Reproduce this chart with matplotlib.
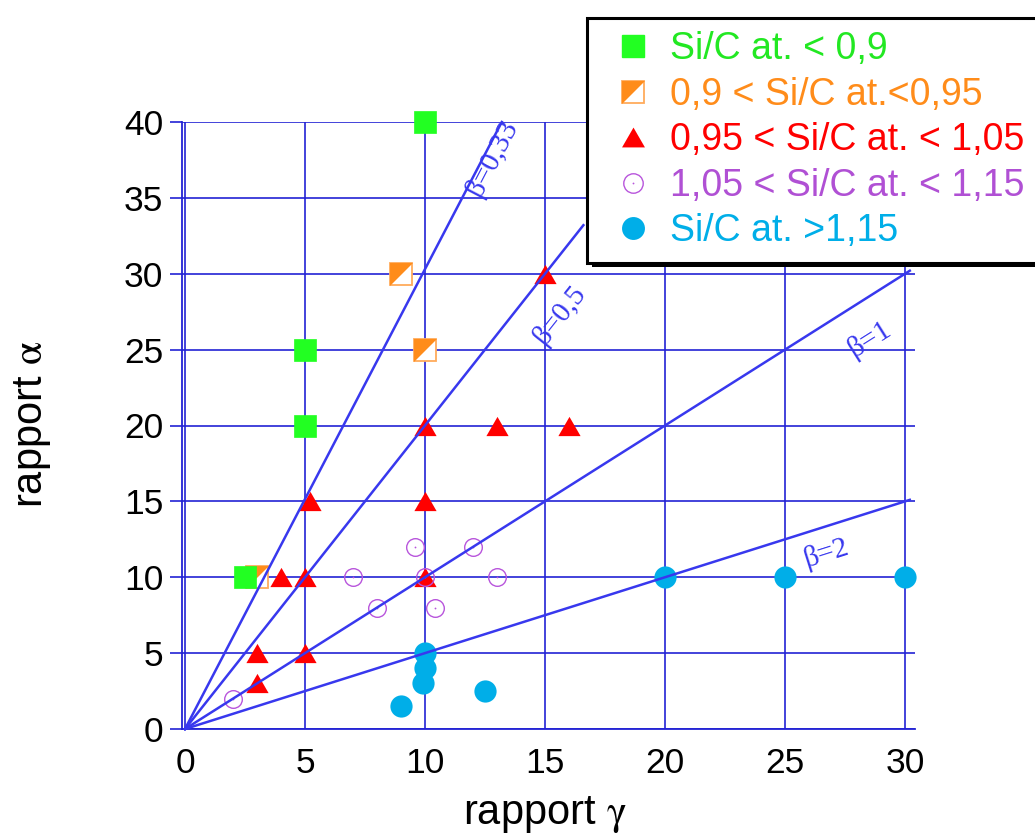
import numpy as np
import matplotlib
matplotlib.use("Agg")
import matplotlib.pyplot as plt
import matplotlib.patheffects as pe
from matplotlib.lines import Line2D

plt.rcParams["font.family"] = ["Liberation Sans", "DejaVu Sans"]
plt.rcParams["mathtext.fontset"] = "stix"

# data
green_x = [2.5, 5, 5, 10]
green_y = [10, 20, 25, 40]
orange_x = [3, 9, 10]
orange_y = [10, 30, 25]
red_x = [3, 3, 4, 5, 5, 5.2, 10, 10, 10, 13, 15, 16]
red_y = [3, 5, 10, 5, 10, 15, 10, 15, 20, 20, 30, 20]
purple_x = [2, 7, 8, 9.6, 10, 10.4, 12, 13]
purple_y = [2, 10, 8, 12, 10, 8, 12, 10]
blue_x = [9, 9.9, 10, 10, 12.5, 20, 25, 30]
blue_y = [1.5, 3, 4, 5, 2.5, 10, 10, 10]

betas = [0.33, 0.5, 1, 2]
beta_texts = ["β=0,33", "β=0,5", "β=1", "β=2"]
beta_xmax = [13.2, 16.6, 30.2, 30.2]
beta_label_x = [12.8, 15.6, 28.5, 26.7]
beta_label_y = [37.6, 27.3, 25.7, 11.6]

labels = ["Si/C at. < 0,9", "0,9 < Si/C at.<0,95", "0,95 < Si/C at. < 1,05",
          "1,05 < Si/C at. < 1,15", "Si/C at. >1,15"]

GREEN = "#22ff22"
ORANGE = "#ff8c1a"
RED = "#ff0000"
PURPLE = "#b855dc"
BLUE = "#00aee8"
LINE = "#3838ee"
GRID = "#2222d4"

tri = [(-1, -0.866), (1, -0.866), (0, 0.866)]
half = [(-1, 1), (1, 1), (-1, -1)]

fig = plt.figure(figsize=(10.35, 8.34), dpi=100)
ax = fig.add_axes([182.1 / 1035, 105 / 834, 732.5 / 1035, 607 / 834])
ax.set_xlim(-0.12, 30.4)
ax.set_ylim(0, 40)

for s in ["top", "right"]:
    ax.spines[s].set_visible(False)
for s in ["left", "bottom"]:
    ax.spines[s].set_color(GRID)
    ax.spines[s].set_linewidth(1.3)

ax.set_xticks(np.arange(0, 31, 5))
ax.set_yticks(np.arange(0, 41, 5))
ax.grid(True, color=GRID, linewidth=1.2, zorder=0)
ax.set_axisbelow(True)
ax.tick_params(axis="y", direction="out", length=8.5, width=1.2, color=GRID,
               pad=5, labelsize=25.5)
ax.tick_params(axis="x", length=0, pad=13, labelsize=25.5)

kw = dict(linestyle="none", clip_on=False)
ax.plot(orange_x, orange_y, marker="s", ms=16.5, mfc="white", mec="#ffab5c",
        mew=1.3, zorder=3, **kw)
ax.plot(orange_x, orange_y, marker=half, ms=16.5, mfc=ORANGE, mec="none",
        zorder=3, **kw)
ax.plot(green_x, green_y, marker="s", ms=16.5, mfc=GREEN, mec=GREEN, mew=0.5,
        zorder=4, **kw)
ax.plot(red_x, red_y, marker=tri, ms=16, mfc=RED, mec="none", zorder=3, **kw)
ax.plot(purple_x, purple_y, marker="o", ms=12.7, mfc="none", mec=PURPLE,
        mew=1.0, zorder=4, **kw)
ax.plot(purple_x, purple_y, marker="o", ms=1.3, mfc=PURPLE, mec="none",
        zorder=4, **kw)
ax.plot(blue_x, blue_y, marker="o", ms=16, mfc=BLUE, mec="none", zorder=3, **kw)

for b, xm, t, lx, ly in zip(betas, beta_xmax, beta_texts, beta_label_x, beta_label_y):
    xs = np.array([0, xm])
    ax.plot(xs, xs / b, color=LINE, linewidth=1.8, zorder=5, clip_on=False)
    ang = np.degrees(np.arctan(1 / b))
    ax.text(lx, ly, t, color=LINE, fontsize=21, family="Liberation Serif",
            rotation=ang, transform_rotates_text=True, rotation_mode="anchor",
            ha="center", va="center", zorder=6)

ax.set_xlabel("rapport $\\mathrm{\\gamma}$", fontsize=30, va="baseline")
ax.xaxis.set_label_coords(0.4954, -0.157)
ax.set_ylabel("rapport $\\mathrm{\\alpha}$", fontsize=30, va="baseline")
ax.yaxis.set_label_coords(-0.1917, 0.5025)

h_green = Line2D([], [], marker="s", ms=16.5, mfc=GREEN, mec=GREEN, ls="none")
h_orange = (Line2D([], [], marker="s", ms=16.5, mfc="white", mec="#ffab5c", mew=1.3, ls="none"),
            Line2D([], [], marker=half, ms=16.5, mfc=ORANGE, mec="none", ls="none"))
h_red = Line2D([], [], marker=tri, ms=16.5, mfc=RED, mec="none", ls="none")
h_purple = (Line2D([], [], marker="o", ms=14, mfc="none", mec=PURPLE, mew=1.0, ls="none"),
            Line2D([], [], marker="o", ms=1.3, mfc=PURPLE, mec="none", ls="none"))
h_blue = Line2D([], [], marker="o", ms=16.5, mfc=BLUE, mec="none", ls="none")

leg = ax.legend([h_green, h_orange, h_red, h_purple, h_blue], labels,
                loc="upper left", bbox_to_anchor=(587 / 1035, 1 - 18 / 834),
                bbox_transform=fig.transFigure, borderaxespad=0, fontsize=27,
                frameon=True, fancybox=False, framealpha=1, edgecolor="black",
                borderpad=0.36, handlelength=1.75, handletextpad=0.1,
                labelspacing=0.25, numpoints=1)
leg.get_frame().set_linewidth(2.2)
leg.get_frame().set_path_effects([
    pe.SimplePatchShadow(offset=(3.5, -3.5), shadow_rgbFace="black", alpha=1),
    pe.Normal()])
leg.set_zorder(10)
text_colors = ["#22e822", ORANGE, RED, "#b050d4", BLUE]
for txt, c in zip(leg.get_texts(), text_colors):
    txt.set_color(c)

fig.savefig("out.png", dpi=100)
